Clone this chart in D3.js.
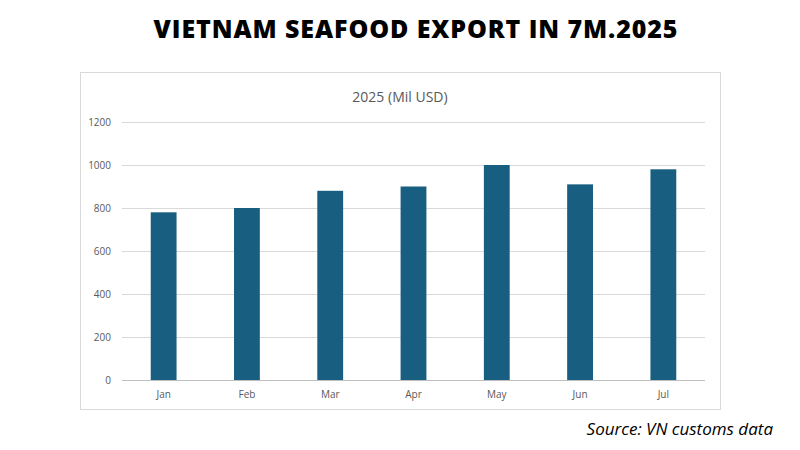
<!DOCTYPE html>
<html><head><meta charset="utf-8">
<script src="https://cdn.jsdelivr.net/npm/d3@7"></script>
<style>body{margin:0;background:#fff}</style></head>
<body><svg id="c" width="800" height="450"></svg>
<script>
const categories=["Jan","Feb","Mar","Apr","May","Jun","Jul"];
const values=[780,800,880,900,1000,910,980];
const yTicks=[0,200,400,600,800,1000,1200];
const svg=d3.select("#c");
svg.append("text").attr("x",416).attr("y",38).attr("text-anchor","middle")
 .attr("font-family","Open Sans, sans-serif").attr("font-weight",800).attr("font-size",25).attr("letter-spacing",0.9).attr("fill","#000")
 .text("VIETNAM SEAFOOD EXPORT IN 7M.2025");
svg.append("rect").attr("x",80.5).attr("y",72.5).attr("width",640).attr("height",337).attr("fill","#fff").attr("stroke","#d9d9d9");
svg.append("text").attr("x",400).attr("y",102).attr("text-anchor","middle")
 .attr("font-family","Open Sans, sans-serif").attr("font-size",14).attr("fill","#595959").text("2025 (Mil USD)");
const x=d3.scaleBand().domain(categories).range([122,705]).paddingInner(0.69).paddingOuter(0.345);
const y=d3.scaleLinear().domain([0,1200]).range([380,122]);
const g=svg.append("g");
g.selectAll("line.g").data(yTicks).join("line").attr("x1",122).attr("x2",705)
 .attr("y1",d=>y(d)+0.5).attr("y2",d=>y(d)+0.5).attr("stroke",d=>d===0?"#bfbfbf":"#d9d9d9");
g.selectAll("text.y").data(yTicks).join("text").attr("x",111).attr("y",d=>y(d)+4).attr("text-anchor","end")
 .attr("font-family","Open Sans, sans-serif").attr("font-size",10).attr("fill","#595959").text(d=>d);
g.selectAll("rect.b").data(values).join("rect").attr("x",(d,i)=>x(categories[i])).attr("width",x.bandwidth())
 .attr("y",d=>y(d)).attr("height",d=>y(0)-y(d)).attr("fill","#175e80");
g.selectAll("text.x").data(categories).join("text").attr("x",d=>x(d)+x.bandwidth()/2).attr("y",398).attr("text-anchor","middle")
 .attr("font-family","Open Sans, sans-serif").attr("font-size",10).attr("fill","#595959").text(d=>d);
svg.append("text").attr("x",773).attr("y",435).attr("text-anchor","end")
 .attr("font-family","Open Sans, sans-serif").attr("font-style","italic").attr("font-size",17).attr("fill","#000")
 .text("Source: VN customs data");
</script></body></html>
